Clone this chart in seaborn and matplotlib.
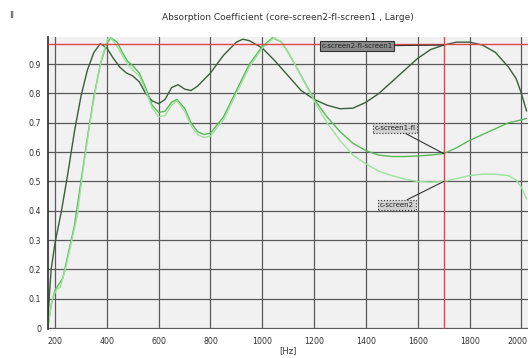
import numpy as np
import pandas as pd
import matplotlib
matplotlib.use("Agg")
import matplotlib.pyplot as plt
import matplotlib.transforms as mtransforms
import seaborn as sns

# ---- data ----
freq_a = [172, 185, 200, 225, 250, 275, 300, 325, 350, 375, 400, 425, 450, 475, 500, 525, 550, 575,
          600, 625, 650, 675, 700, 725, 750, 800, 850, 900, 925, 950, 1000, 1050, 1100, 1150, 1200,
          1250, 1300, 1350, 1400, 1450, 1500, 1550, 1600, 1650, 1700, 1750, 1800, 1850, 1900, 1950,
          1980, 2000, 2020]
vals_a = [0.03, 0.20, 0.29, 0.40, 0.53, 0.67, 0.79, 0.88, 0.94, 0.97, 0.955, 0.92, 0.89, 0.87, 0.86,
          0.84, 0.80, 0.775, 0.765, 0.78, 0.82, 0.83, 0.815, 0.81, 0.825, 0.87, 0.93, 0.975, 0.985,
          0.98, 0.955, 0.91, 0.86, 0.81, 0.78, 0.76, 0.748, 0.75, 0.77, 0.80, 0.84, 0.88, 0.92, 0.95,
          0.965, 0.975, 0.975, 0.965, 0.94, 0.89, 0.85, 0.80, 0.74]

freq_b = [172, 185, 200, 215, 230, 250, 275, 300, 325, 350, 375, 400, 415, 440, 460, 480, 500, 525,
          550, 575, 600, 625, 650, 670, 700, 725, 750, 775, 800, 850, 900, 950, 1000, 1040, 1075,
          1100, 1150, 1200, 1250, 1300, 1350, 1400, 1450, 1500, 1550, 1600, 1650, 1700, 1750, 1800,
          1850, 1900, 1950, 2000, 2020]
vals_b = [0.0, 0.08, 0.13, 0.15, 0.17, 0.25, 0.35, 0.50, 0.65, 0.79, 0.90, 0.97, 0.99, 0.975, 0.94,
          0.91, 0.895, 0.87, 0.82, 0.76, 0.735, 0.74, 0.77, 0.78, 0.75, 0.70, 0.67, 0.66, 0.665, 0.72,
          0.81, 0.90, 0.96, 0.99, 0.975, 0.94, 0.86, 0.78, 0.72, 0.67, 0.63, 0.605, 0.59, 0.585, 0.585,
          0.587, 0.59, 0.595, 0.615, 0.64, 0.66, 0.68, 0.70, 0.71, 0.715]

freq_c = [172, 190, 205, 220, 240, 260, 285, 310, 335, 360, 380, 405, 420, 440, 460, 480, 500, 525,
          550, 575, 600, 625, 650, 670, 700, 725, 750, 775, 800, 850, 900, 950, 1000, 1045, 1075,
          1100, 1150, 1200, 1250, 1300, 1350, 1400, 1450, 1500, 1550, 1600, 1650, 1700, 1750, 1800,
          1850, 1900, 1950, 1980, 2000, 2020]
vals_c = [0.0, 0.10, 0.13, 0.14, 0.20, 0.28, 0.38, 0.55, 0.70, 0.83, 0.92, 0.99, 0.985, 0.96, 0.93,
          0.90, 0.88, 0.86, 0.81, 0.75, 0.72, 0.725, 0.76, 0.775, 0.74, 0.69, 0.66, 0.65, 0.655, 0.71,
          0.80, 0.89, 0.955, 0.99, 0.975, 0.94, 0.86, 0.775, 0.70, 0.64, 0.59, 0.56, 0.535, 0.52,
          0.508, 0.50, 0.498, 0.50, 0.51, 0.52, 0.525, 0.525, 0.52, 0.505, 0.48, 0.44]

series_names = ["c-screen2-fl-screen1", "c-screen1-fl", "c-screen2"]
series_colors = ["#3d5c3d", "#5cb85c", "#9be39b"]
x_ticks = [200, 400, 600, 800, 1000, 1200, 1400, 1600, 1800, 2000]
y_ticks = [0, 0.1, 0.2, 0.3, 0.4, 0.5, 0.6, 0.7, 0.8, 0.9]
y_tick_labels = ["0", "0.1", "0.2", "0.3", "0.4", "0.5", "0.6", "0.7", "0.8", "0.9"]
marker_freq = 1700
marker_level = 0.97
label_points = [0.965, 0.595, 0.50]

df = pd.concat([
    pd.DataFrame({"freq": freq_a, "value": vals_a, "series": series_names[0]}),
    pd.DataFrame({"freq": freq_b, "value": vals_b, "series": series_names[1]}),
    pd.DataFrame({"freq": freq_c, "value": vals_c, "series": series_names[2]}),
])

sns.set_theme(style="whitegrid", rc={
    "axes.facecolor": "#f1f1f1",
    "grid.color": "#5a5a5a",
    "grid.linewidth": 0.9,
    "axes.edgecolor": "#444444",
})
plt.rcParams["font.family"] = ["DejaVu Sans"]

fig = plt.figure(figsize=(5.30, 3.58), dpi=100)
ax = fig.add_axes([0.0906, 0.081, 0.9054, 0.816])

sns.lineplot(data=df, x="freq", y="value", hue="series", palette=series_colors,
             hue_order=series_names, estimator=None, sort=True, linewidth=1.0,
             legend=False, ax=ax)

ax.axhline(marker_level, color="#e04848", linewidth=1.0, zorder=3)
ax.axvline(marker_freq, color="#e04848", linewidth=1.0, zorder=3)

ax.set_xlim(173, 2025)
ax.set_ylim(-0.003, 0.993)
ax.set_xticks(x_ticks)
ax.set_xticklabels([str(t) for t in x_ticks])
ax.set_yticks(y_ticks)
ax.set_yticklabels(y_tick_labels)
ax.tick_params(axis="both", labelsize=5.7, colors="#333333", length=3, width=0.8, pad=2)
ax.tick_params(axis="x", pad=3)
last = ax.get_xticklabels()[-1]
last.set_transform(last.get_transform() +
                   mtransforms.ScaledTranslation(-4 / 100, 0, fig.dpi_scale_trans))
for side in ["top", "right", "bottom"]:
    ax.spines[side].set_visible(False)
ax.spines["left"].set_color("#333333")
ax.set_xlabel("[Hz]", fontsize=6, color="#333333", labelpad=0)
ax.set_ylabel("")
ax.set_title("Absorption Coefficient (core-screen2-fl-screen1 , Large)", fontsize=6.5,
             color="#333333", pad=12)

# annotation labels
ax.annotate(series_names[0], xy=(marker_freq, label_points[0]), xytext=(1366, 0.962),
            fontsize=5, color="#222222", ha="center", va="center",
            bbox=dict(boxstyle="square,pad=0.25", fc="#8c8c8c", ec="#333333", lw=0.8),
            arrowprops=dict(arrowstyle="-", color="#333333", lw=0.8, shrinkA=0, shrinkB=0),
            zorder=5)
ax.annotate(series_names[1], xy=(marker_freq, label_points[1]), xytext=(1512, 0.683),
            fontsize=5, color="#222222", ha="center", va="center",
            bbox=dict(boxstyle="square,pad=0.25", fc="#d0d0d0", ec="#333333", lw=0.8, ls=":"),
            arrowprops=dict(arrowstyle="-", color="#333333", lw=0.8, shrinkA=0, shrinkB=0),
            zorder=5)
ax.annotate(series_names[2], xy=(marker_freq, label_points[2]), xytext=(1519, 0.42),
            fontsize=5, color="#222222", ha="center", va="center",
            bbox=dict(boxstyle="square,pad=0.25", fc="#d0d0d0", ec="#333333", lw=0.8, ls=":"),
            arrowprops=dict(arrowstyle="-", color="#333333", lw=0.8, shrinkA=0, shrinkB=0),
            zorder=5)

fig.text(12 / 530, 1 - 15 / 358, "II", fontsize=6, color="#333333", ha="center", va="center")

fig.savefig("out.png", dpi=100)
